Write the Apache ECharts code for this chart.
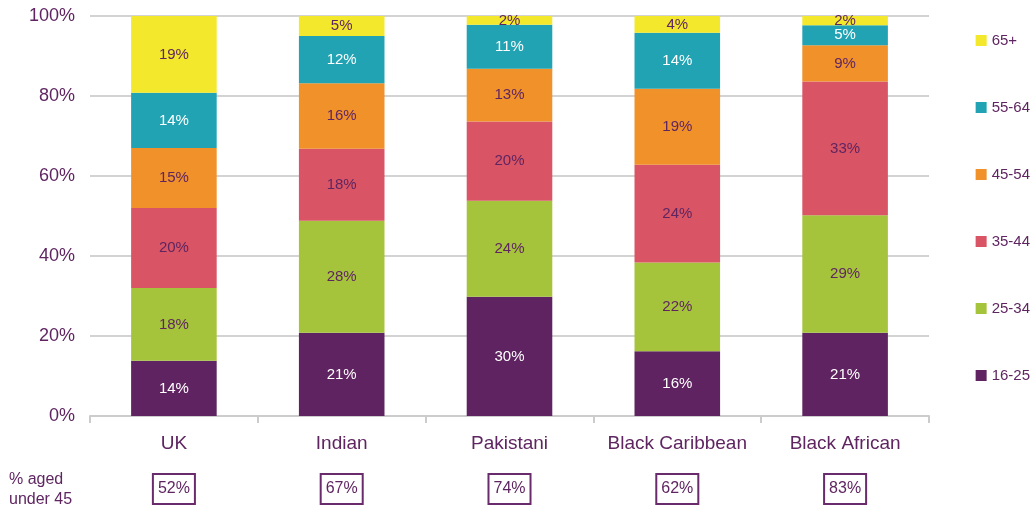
<!DOCTYPE html>
<html>
<head>
<meta charset="utf-8">
<script src="https://cdn.jsdelivr.net/npm/echarts@6/dist/echarts.min.js"></script>
<style>
  * { margin: 0; padding: 0; }
  body { background: #fff; }
</style>
</head>
<body>
<div id="chartId" style="width: 1031px;height: 509px;"></div>
<script>
// data (share of each group, %)
const groups = ["UK", "Indian", "Pakistani", "Black Caribbean", "Black African"];
const under45 = ["52%", "67%", "74%", "62%", "83%"];
const ageBands = ["16-25", "25-34", "35-44", "45-54", "55-64", "65+"];
const age16to25 = [13.8, 20.8, 29.8, 16.2, 20.8];
const age25to34 = [18.2, 28.0, 24.0, 22.2, 29.4];
const age35to44 = [20.0, 18.0, 19.8, 24.4, 33.4];
const age45to54 = [15.0, 16.4, 13.2, 19.0, 9.1];
const age55to64 = [13.8, 11.8, 11.0, 14.0, 5.0];
const age65plus = [19.2, 5.0, 2.2, 4.2, 2.3];
const yTicks = [0, 20, 40, 60, 80, 100];

const purple = "#5f2561";
const colors = ["#5e2360", "#a5c43c", "#d95565", "#f0912a", "#22a3b3", "#f3e82b"];
const labelColors = ["#ffffff", purple, purple, purple, "#ffffff", purple];
const values = [age16to25, age25to34, age35to44, age45to54, age55to64, age65plus];
const font = "Liberation Sans, Arial, sans-serif";

let chart = echarts.init(document.getElementById("chartId"));
let option = {
  animation: false,
  textStyle: { fontFamily: font },
  legend: {
    orient: "vertical",
    right: -4,
    top: 28,
    itemWidth: 11,
    itemHeight: 11,
    itemGap: 52,
    icon: "rect",
    data: ageBands.slice().reverse(),
    textStyle: { color: purple, fontSize: 15, fontFamily: font }
  },
  grid: { left: 90, right: 102, top: 16, bottom: 93 },
  xAxis: {
    type: "category",
    data: groups,
    axisLine: { lineStyle: { color: "#cccccc", width: 2 } },
    axisTick: { show: true, length: 7, lineStyle: { color: "#cccccc", width: 2 } },
    axisLabel: {
      interval: 0,
      margin: 17,
      formatter: (v, i) => `{name|${v}}\n{gap| }\n{box|${under45[i]}}`,
      rich: {
        name: { color: purple, fontSize: 19, fontFamily: font, lineHeight: 22 },
        gap: { fontSize: 10, lineHeight: 25 },
        box: {
          color: purple, fontSize: 16, fontFamily: font, lineHeight: 18,
          borderColor: "#6a2b6c", borderWidth: 2, padding: [7, 5, 7, 5]
        }
      }
    }
  },
  yAxis: {
    type: "value",
    min: 0,
    max: 100,
    interval: 20,
    axisLine: { show: false },
    axisTick: { show: false },
    axisLabel: {
      margin: 15,
      color: purple,
      fontSize: 18,
      fontFamily: font,
      formatter: v => (yTicks.includes(v) ? v + "%" : "")
    },
    splitLine: { lineStyle: { color: "#d3d3d3", width: 2 } }
  },
  graphic: [
    {
      type: "text",
      left: 9,
      top: 470,
      style: {
        text: "% aged\nunder 45",
        fill: purple,
        font: "16px " + font,
        lineHeight: 20
      }
    }
  ],
  series: ageBands.map((band, k) => ({
    name: band,
    type: "bar",
    stack: "age",
    barWidth: "51%",
    data: values[k],
    itemStyle: { color: colors[k] },
    label: {
      show: true,
      position: "inside",
      color: labelColors[k],
      fontSize: 15,
      fontFamily: font,
      formatter: p => Math.round(p.value) + "%"
    }
  }))
};
chart.setOption(option);
</script>
</body>
</html>
